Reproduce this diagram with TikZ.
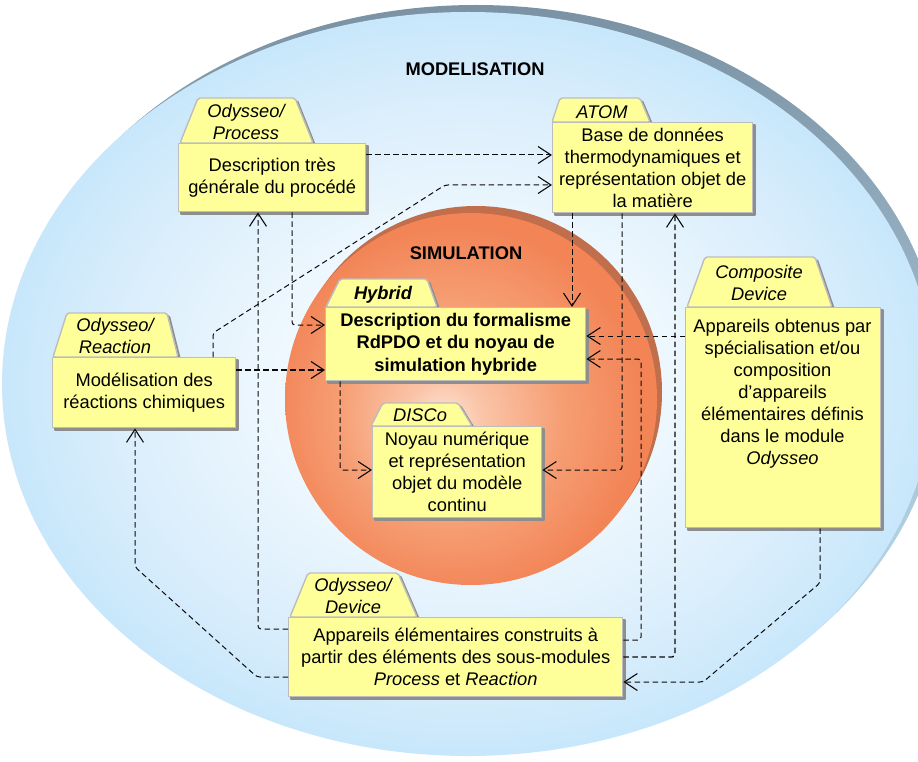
\documentclass[tikz,border=0pt]{standalone}
\usepackage{fontspec}
\setmainfont{Liberation Sans}
\usetikzlibrary{arrows.meta}

% palette
\definecolor{skyA}{HTML}{EFF8FE}
\definecolor{skyB}{HTML}{DDEFFC}
\definecolor{skyC}{HTML}{C8E7FB}
\definecolor{rimtop}{HTML}{7A92A3}
\definecolor{rimmid}{HTML}{A9BDCB}
\definecolor{peachA}{HTML}{FDE6DA}
\definecolor{peachB}{HTML}{FAC5A9}
\definecolor{peachC}{HTML}{F69E74}
\definecolor{peachD}{HTML}{F28456}
\definecolor{sphererim}{HTML}{C06E4B}
\definecolor{boxyellow}{HTML}{FFFF99}
\definecolor{boxedge}{HTML}{BDBDBD}
\definecolor{boxshade}{HTML}{8E8E8E}
\definecolor{linkcol}{HTML}{0A0A0A}

% fills of the two zones
\pgfdeclareradialshading{modelfill}{\pgfpoint{0bp}{0bp}}{color(0bp)=(skyA); color(10bp)=(skyA); color(18bp)=(skyB); color(25bp)=(skyC); color(50bp)=(skyC)}
\pgfdeclareradialshading{simfill}{\pgfpoint{-4bp}{-3bp}}{color(0bp)=(peachA); color(5bp)=(peachB); color(15bp)=(peachC); color(25bp)=(peachD); color(50bp)=(peachD)}

\newcommand\boxfont{\fontsize{18.3}{22}\selectfont}

\begin{document}
\begin{tikzpicture}[x=1pt,y=-1pt,
  pkg/.style={draw=boxedge, fill=boxyellow, line width=1.4pt, line join=round,
    preaction={draw=boxshade, fill=boxshade, line width=1.4pt,
      transform canvas={shift={(2.2pt,-2.2pt)}}}},
  body/.style={pkg, rectangle, inner sep=0pt, align=center, font=\boxfont, anchor=north west},
  boxtext/.style={inner sep=0pt, align=center, font=\boxfont},
  tablabel/.style={boxtext, font=\boxfont\itshape},
  zonetitle/.style={inner sep=0pt, font=\fontsize{18.3}{22}\selectfont\bfseries},
  link/.style={draw=linkcol, line width=1pt, dash pattern=on 5.5pt off 3.5pt,
    rounded corners=3pt, -{Straight Barb[length=13pt,width=17pt,line width=1.1pt]}},
  heavy/.style={line width=1.4pt},
]
\useasboundingbox (0,0) rectangle (918,762);
\fill[white] (0,0) rectangle (918,762);

% MODELISATION zone
\shade[top color=rimtop, middle color=rimmid, bottom color=skyC] (476,377) ellipse [x radius=466, y radius=372];
\shade[shading=modelfill] (468,384) ellipse [x radius=466, y radius=372];

% SIMULATION zone
\fill[sphererim] (476,392) circle [radius=186];
\shade[shading=simfill] (471,399) circle [radius=186];

\node[zonetitle] (modtitle) at (475,69) {MODELISATION};
\node[zonetitle] (simtitle) at (466,253) {SIMULATION};

% package tabs
\draw[pkg, rounded corners=2pt] (180,143) -- (198,98) -- (295,98) -- (313,143) -- cycle;
\draw[pkg, rounded corners=2pt] (552,122) -- (560,98) -- (640,98) -- (650,122) -- cycle;
\draw[pkg, rounded corners=2pt] (326,307) -- (340,279) -- (427,279) -- (437,307) -- cycle;
\draw[pkg, rounded corners=2pt] (53,357) -- (67,313) -- (167,313) -- (178,357) -- cycle;
\draw[pkg, rounded corners=2pt] (687,307) -- (705,257) -- (815,257) -- (832,307) -- cycle;
\draw[pkg, rounded corners=2pt] (371,426) -- (383,403) -- (458,403) -- (472,426) -- cycle;
\draw[pkg, rounded corners=2pt] (290,617) -- (308,573) -- (398,573) -- (417,617) -- cycle;

\node[tablabel] (proctab) at (246,122) {Odysseo/\\Process};
\node[tablabel] (atomtab) at (602,112) {ATOM};
\node[tablabel, font=\boxfont\bfseries\itshape] (hybtab) at (383,295) {Hybrid};
\node[tablabel] (reactab) at (115,336) {Odysseo/\\Reaction};
\node[tablabel] (comptab) at (759,283) {Composite\\Device};
\node[tablabel] (discotab) at (420,415) {DISCo};
\node[tablabel] (devtab) at (353,596) {Odysseo/\\Device};

% package bodies
\node[body, minimum width=187pt, minimum height=68pt] (proc) at (178,143)
  {Description très\\générale du procédé};
\node[body, minimum width=200pt, minimum height=90pt] (atom) at (552,122)
  {Base de données\\thermodynamiques et\\représentation objet de\\la matière};
\node[body, minimum width=260pt, minimum height=73pt, font=\fontsize{18.3}{22.5}\selectfont\bfseries] (hyb) at (325,307)
  {Description du formalisme\\RdPDO et du noyau de\\simulation hybride};
\node[body, minimum width=183pt, minimum height=70pt] (reac) at (52,357)
  {Modélisation des\\réactions chimiques};
\node[body, minimum width=195pt, minimum height=220pt] (comp) at (685,307) {};
\node[boxtext, anchor=north] (comptext) at (782.5,319)
  {Appareils obtenus par\\spécialisation et/ou\\composition\\d’appareils\\élémentaires définis\\dans le module\\\textit{Odysseo}};
\node[body, minimum width=169pt, minimum height=91pt] (disco) at (372,426)
  {Noyau numérique\\et représentation\\objet du modèle\\continu};
\node[body, minimum width=334pt, minimum height=79pt] (dev) at (288,617)
  {Appareils élémentaires construits à\\partir des éléments des sous-modules\\\textit{Process} et \textit{Reaction}};

% bend points of the dependencies
\coordinate (r1) at (0,155);
\coordinate (c2a) at (213,333);
\coordinate (c2b) at (445,185);
\coordinate (c3) at (292,325);
\coordinate (c4) at (0,370);
\coordinate (c5) at (572,0);
\coordinate (c6) at (0,336);
\coordinate (c7a) at (641,640);
\coordinate (c7b) at (641,359);
\coordinate (c8) at (340,470);
\coordinate (c9) at (622,470);
\coordinate (c10) at (675,657);
\coordinate (c11a) at (820,583);
\coordinate (c11b) at (703,682);
\coordinate (c12a) at (257,677);
\coordinate (c12b) at (135,567);
\coordinate (c13) at (258,629);

% dependencies
\draw[link] (proc.east |- r1) -- (atom.west |- r1);
\draw[link] (reac.north -| c2a) -- (c2a) -- (c2b) -- (atom.west |- c2b);
\draw[link] (proc.south -| c3) -- (c3) -- (hyb.west |- c3);
\draw[link, heavy] (reac.east |- c4) -- (hyb.west |- c4);
\draw[link] (atom.south -| c5) -- (hyb.north -| c5);
\draw[link] (comp.west |- c6) -- (hyb.east |- c6);
\draw[link] (dev.east |- c7a) -- (c7a) -- (c7b) -- (hyb.east |- c7b);
\draw[link] (hyb.south -| c8) -- (c8) -- (disco.west |- c8);
\draw[link] (atom.south -| c9) -- (c9) -- (disco.east |- c9);
\draw[link, heavy] (dev.east |- c10) -- (c10) -- (atom.south -| c10);
\draw[link] (comp.south -| c11a) -- (c11a) -- (c11b) -- (dev.east |- c11b);
\draw[link] (dev.west |- c12a) -- (c12a) -- (c12b) -- (reac.south -| c12b);
\draw[link] (dev.west |- c13) -- (c13) -- (proc.south -| c13);
\end{tikzpicture}
\end{document}
